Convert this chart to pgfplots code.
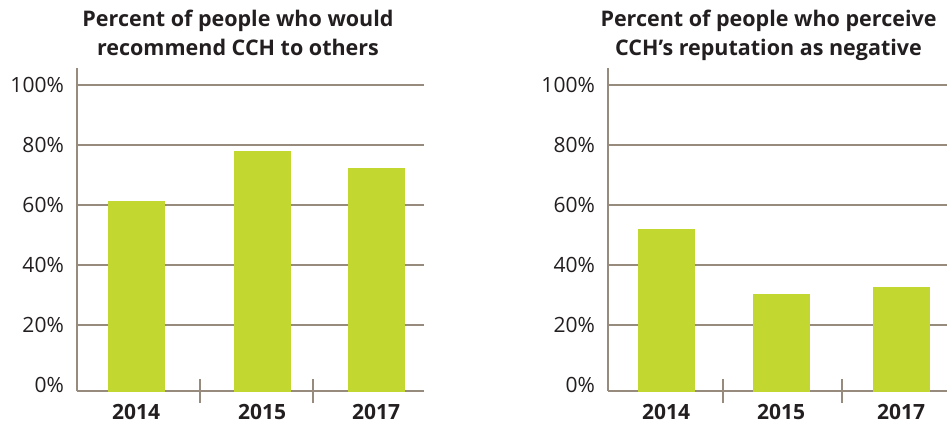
\documentclass[border=0pt]{standalone}
\usepackage{pgfplots}
\pgfplotsset{compat=1.18}
\usepackage{fontspec}
\setmainfont{Open Sans}

\definecolor{barc}{HTML}{C2D72F}
\definecolor{gridc}{HTML}{978B7E}
\definecolor{txt}{HTML}{231F20}

\pgfplotsset{
  cchpanel/.style={
    scale only axis, anchor=south west,
    height=323pt,
    ymin=-2, ymax=105.67,
    axis lines=left,
    axis line style={-, draw=gridc, line width=1.4pt},
    ytick={20,40,60,80,100},
    yticklabels={20\%,40\%,60\%,80\%,100\%},
    extra y ticks={0},
    extra y tick labels={0\%},
    extra y tick style={grid=none},
    ymajorgrids,
    major grid style={draw=gridc, line width=1.2pt},
    major tick length=0pt,
    minor tick length=24pt,
    tick align=center,
    minor tick style={draw=gridc, line width=1.2pt},
    yticklabel style={anchor=east, inner sep=0pt, xshift=-13pt,
      font=\fontsize{21}{24}\selectfont, text=txt},
    xticklabel style={anchor=north, inner sep=0pt, yshift=-13pt,
      font=\fontsize{21}{24}\selectfont\bfseries, text=txt},
  },
  cchbar/.style={ybar, bar shift=0pt, bar width=56,
    fill=barc, draw=barc, line width=0.3pt, mark=none},
}

\begin{document}
\begin{tikzpicture}
\path[use as bounding box] (0,0) rectangle (947pt,-423pt);

% left panel
\begin{axis}[cchpanel,
  at={(77pt,-391pt)}, width=347pt,
  xmin=77, xmax=424,
  xtick={136,262,376}, xticklabels={2014,2015,2017},
  minor xtick={200,313},
]
  \addplot[cchbar] coordinates {(136,61.3) (262,77.9) (376,72.2)};
  % fills the strip between 0 and the lowered baseline
  \addplot[cchbar] coordinates {(136,-2) (262,-2) (376,-2)};
\end{axis}

% right panel
\begin{axis}[cchpanel,
  at={(608pt,-391pt)}, width=339pt,
  xmin=608, xmax=947,
  xtick={666,781,901}, xticklabels={2014,2015,2017},
  minor xtick={723,842},
]
  \addplot[cchbar] coordinates {(666,51.8) (781,30.2) (901,32.6)};
  \addplot[cchbar] coordinates {(666,-2) (781,-2) (901,-2)};
\end{axis}

\begin{scope}[every node/.style={anchor=base, inner sep=0pt, text=txt,
    font=\fontsize{21.5}{25}\selectfont\bfseries}]
  \node at (238pt,-26.7pt) {Percent of people who would};
  \node at (238pt,-55pt) {recommend CCH to others};
  \node at (768.5pt,-26.7pt) {Percent of people who perceive};
  \node at (768.5pt,-55pt) {CCH’s reputation as negative};
\end{scope}
\end{tikzpicture}
\end{document}
